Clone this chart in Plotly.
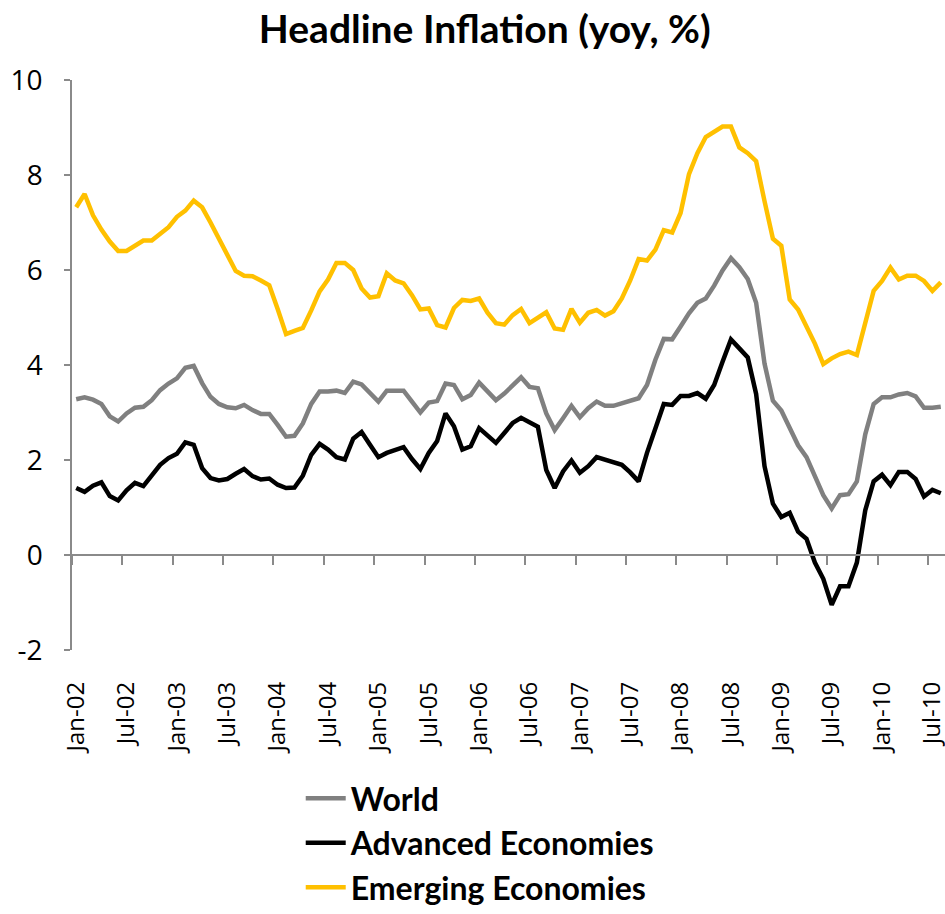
import plotly.graph_objects as go

# Monthly headline CPI inflation, year over year (%), Jan-2002 .. Aug-2010
months = [f"{m}-{y:02d}" for y in range(2, 11)
          for m in ["Jan", "Feb", "Mar", "Apr", "May", "Jun",
                    "Jul", "Aug", "Sep", "Oct", "Nov", "Dec"]][:104]

world = [
    3.28, 3.32, 3.27, 3.18, 2.92, 2.81, 2.98, 3.10, 3.12, 3.26, 3.47, 3.61,
    3.72, 3.94, 3.98, 3.62, 3.33, 3.18, 3.11, 3.09, 3.16, 3.05, 2.97, 2.97,
    2.74, 2.49, 2.51, 2.77, 3.18, 3.44, 3.44, 3.46, 3.41, 3.65, 3.59, 3.40,
    3.23, 3.46, 3.46, 3.46, 3.23, 3.00, 3.21, 3.24, 3.61, 3.58, 3.28, 3.37,
    3.63, 3.44, 3.26, 3.40, 3.57, 3.74, 3.54, 3.51, 2.98, 2.63, 2.88, 3.14,
    2.90, 3.09, 3.23, 3.14, 3.14, 3.19, 3.23, 3.30, 3.58, 4.11, 4.55, 4.54,
    4.81, 5.09, 5.31, 5.40, 5.67, 5.99, 6.25, 6.06, 5.81, 5.31, 4.03, 3.25,
    3.04, 2.70, 2.31, 2.06, 1.65, 1.26, 0.98, 1.26, 1.28, 1.55, 2.54, 3.18,
    3.32, 3.32, 3.38, 3.41, 3.34, 3.10, 3.10, 3.12,
]

advanced = [
    1.41, 1.33, 1.46, 1.53, 1.24, 1.15, 1.36, 1.52, 1.45, 1.66, 1.90, 2.04,
    2.13, 2.37, 2.32, 1.83, 1.62, 1.57, 1.60, 1.71, 1.81, 1.66, 1.59, 1.61,
    1.48, 1.41, 1.42, 1.67, 2.11, 2.34, 2.22, 2.06, 2.01, 2.45, 2.59, 2.32,
    2.06, 2.15, 2.22, 2.27, 2.02, 1.81, 2.15, 2.40, 2.98, 2.71, 2.22, 2.29,
    2.67, 2.51, 2.36, 2.57, 2.78, 2.89, 2.80, 2.70, 1.79, 1.41, 1.76, 1.99,
    1.73, 1.87, 2.06, 2.00, 1.95, 1.90, 1.74, 1.55, 2.15, 2.67, 3.18, 3.16,
    3.35, 3.35, 3.41, 3.29, 3.58, 4.07, 4.54, 4.35, 4.16, 3.39, 1.87, 1.08,
    0.80, 0.89, 0.49, 0.34, -0.16, -0.50, -1.05, -0.66, -0.66, -0.16, 0.94, 1.55,
    1.69, 1.47, 1.75, 1.75, 1.60, 1.23, 1.37, 1.30,
]

emerging = [
    7.32, 7.60, 7.15, 6.85, 6.60, 6.40, 6.40, 6.50, 6.62, 6.62, 6.77, 6.90,
    7.12, 7.25, 7.46, 7.32, 7.00, 6.67, 6.32, 5.98, 5.88, 5.87, 5.78, 5.68,
    5.18, 4.65, 4.72, 4.78, 5.15, 5.55, 5.80, 6.15, 6.15, 6.00, 5.61, 5.42,
    5.45, 5.93, 5.78, 5.72, 5.47, 5.17, 5.19, 4.84, 4.79, 5.20, 5.37, 5.35,
    5.40, 5.10, 4.88, 4.85, 5.05, 5.18, 4.88, 5.00, 5.11, 4.77, 4.74, 5.18,
    4.89, 5.10, 5.16, 5.04, 5.13, 5.40, 5.78, 6.23, 6.20, 6.43, 6.84, 6.79,
    7.20, 8.02, 8.46, 8.80, 8.90, 9.02, 9.02, 8.58, 8.46, 8.29, 7.45, 6.66,
    6.51, 5.38, 5.17, 4.80, 4.45, 4.02, 4.14, 4.23, 4.28, 4.21, 4.89, 5.56,
    5.77, 6.05, 5.80, 5.88, 5.88, 5.77, 5.56, 5.74,
]

series = [
    ("World", world, "#808080"),
    ("Advanced Economies", advanced, "#000000"),
    ("Emerging Economies", emerging, "#FFC000"),
]

y_ticks = [10, 8, 6, 4, 2, 0, -2]
y_tick_text = ["10", "8", "6", "4", "2", "0", "-2"]

idx = list(range(len(months)))
label_idx = idx[::6]
label_text = [months[i] for i in label_idx]
boundary_ticks = [i - 0.5 for i in label_idx]

TITLE_FONT = "Lato"
TICK_FONT = "Open Sans"
AXIS_GREY = "#8a8a8a"

fig = go.Figure()
for name, vals, color in series:
    fig.add_trace(go.Scatter(
        x=idx, y=vals, name=name, mode="lines",
        line=dict(color=color, width=4.5),
        legendgroup=name,
        hovertemplate="%{text}: %{y:.2f}%<extra>" + name + "</extra>",
        text=months,
    ))

# helper trace so the category-boundary tick axis (crossing at zero) is rendered
fig.add_trace(go.Scatter(x=[idx[0]], y=[None], xaxis="x2", showlegend=False,
                         hoverinfo="skip", mode="lines"))

fig.update_layout(
    width=945, height=914,
    margin=dict(l=72, r=0, t=80, b=264, autoexpand=False),
    paper_bgcolor="white", plot_bgcolor="white",
    font=dict(family=TICK_FONT, color="#000000"),
    title=dict(text="<b>Headline Inflation (yoy, %)</b>",
               x=0.513, xanchor="center", y=0.968, yanchor="middle",
               font=dict(family=TITLE_FONT, size=39, color="#000000")),
    xaxis=dict(
        range=[-0.5, len(months) - 0.5],
        tickmode="array", tickvals=label_idx, ticktext=label_text,
        tickangle=-90, ticks="", showline=False, showgrid=False,
        zeroline=False, ticklabelstandoff=26, ticklabeloverflow="allow",
        automargin=False,
        tickfont=dict(family=TICK_FONT, size=24, color="#000000"),
    ),
    xaxis2=dict(
        overlaying="x", anchor="free",
        position=(0 - y_ticks[-1]) / (y_ticks[0] - y_ticks[-1]),
        range=[-0.5, len(months) - 0.5],
        tickmode="array", tickvals=boundary_ticks, ticks="outside",
        ticklen=9, tickwidth=1.5, tickcolor=AXIS_GREY,
        showticklabels=False, showline=True, linecolor=AXIS_GREY,
        linewidth=1.5, showgrid=False, zeroline=False,
    ),
    yaxis=dict(
        range=[y_ticks[-1], y_ticks[0]],
        tickmode="array", tickvals=y_ticks, ticktext=y_tick_text,
        ticks="outside", ticklen=6, tickwidth=1.5, tickcolor=AXIS_GREY,
        showline=True, linecolor=AXIS_GREY, linewidth=1.5,
        showgrid=False, zeroline=False, ticklabelstandoff=16,
        automargin=False,
        tickfont=dict(family=TICK_FONT, size=28, color="#000000"),
    ),
    legend=dict(
        x=0.262, xanchor="left", y=-0.212, yanchor="top",
        orientation="v", tracegroupgap=0,
        font=dict(family=TITLE_FONT, size=32, color="#000000", weight="bold"),
        itemwidth=40, bgcolor="rgba(0,0,0,0)",
    ),
    showlegend=True,
)

fig.write_html("out.html")
